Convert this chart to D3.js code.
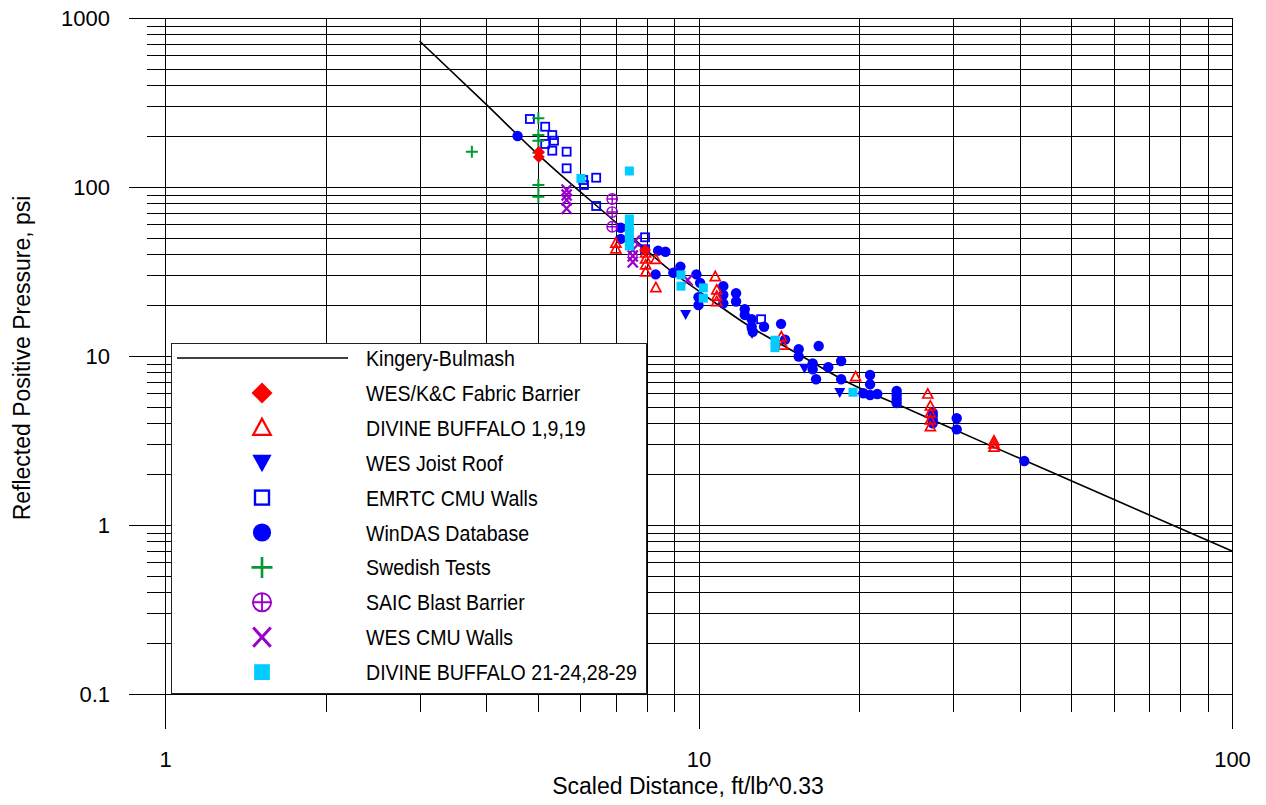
<!DOCTYPE html>
<html>
<head>
<meta charset="utf-8">
<script src="https://cdn.jsdelivr.net/npm/d3@7"></script>
<style>
  html, body { margin: 0; padding: 0; background: #fff; }
  svg { display: block; font-family: "Liberation Sans", Arial, sans-serif; }
</style>
</head>
<body>
<svg id="chart" width="1266" height="805"></svg>
<script>
// ---- Data: scaled distance Z (ft/lb^0.33) vs reflected positive pressure (psi) ----

// Kingery-Bulmash reflected pressure curve
const kingeryZ = [3, 4, 5, 7, 9, 10, 12.5, 15, 19.2, 25, 35.8, 45.6, 70, 100];
const kingeryP = [731, 308, 156, 61.7, 30.8, 24.3, 14.9, 10.75, 6.9, 4.78, 2.89, 2.07, 1.146, 0.702];

const wesKcFabric = [[5.02, 161], [5.02, 150.5], [7.94, 42.4]];

const divineBuffalo1919 = [
  [7.00, 46.6], [7.00, 43.0], [7.96, 40.7], [7.96, 37.5], [7.96, 34.6], [7.96, 31.4],
  [8.32, 37.3], [8.32, 25.4], [10.75, 29.5], [10.82, 24.6], [10.82, 22.6], [10.82, 21.0],
  [14.3, 13.0], [14.4, 11.6], [19.7, 7.54], [26.9, 5.96], [27.2, 5.06], [27.2, 4.60],
  [27.2, 4.18], [27.2, 3.82], [35.8, 3.14], [35.8, 3.02], [35.8, 2.89]
];

const wesJoistRoof = [[9.46, 17.6], [12.6, 13.6], [15.8, 8.46], [18.4, 6.08]];

const emrtcCmuWalls = [
  [4.83, 252.6], [5.16, 227.4], [5.32, 203.0], [5.36, 187.9], [5.16, 179.7], [5.32, 164.0],
  [5.66, 161.8], [5.66, 129.0], [6.08, 110.0], [6.10, 102.8], [6.43, 113.5], [6.43, 77.2],
  [7.94, 50.4], [7.94, 42.8], [13.1, 16.5]
];

const winDas = [
  [4.58, 200.4], [7.15, 57.4], [7.15, 49.3], [8.40, 42.0], [8.67, 41.4], [8.31, 30.4],
  [8.97, 31.1], [9.25, 33.8], [9.91, 30.4], [10.07, 27.1], [10.0, 22.3], [10.0, 20.0],
  [11.13, 25.9], [11.13, 23.0], [11.13, 20.5], [11.76, 23.5], [11.76, 21.0], [12.21, 18.9],
  [12.21, 17.5], [12.58, 16.5], [12.58, 14.9], [12.64, 13.9], [13.27, 14.9], [14.28, 15.5],
  [14.53, 12.5], [15.41, 10.96], [15.41, 9.93], [16.37, 9.05], [16.37, 8.34], [16.80, 11.46],
  [17.51, 8.58], [16.61, 7.28], [18.51, 9.34], [18.51, 7.28], [20.37, 6.02], [20.97, 7.72],
  [20.97, 6.80], [20.97, 5.88], [21.63, 5.96], [23.52, 6.21], [23.52, 5.88], [23.52, 5.57],
  [23.52, 5.27], [27.48, 4.62], [27.48, 4.42], [27.48, 4.18], [27.48, 4.00], [30.48, 4.28],
  [30.48, 3.68], [40.8, 2.39]
];

const swedishTests = [
  [3.76, 161.8], [5.01, 255.0], [5.01, 203.0], [5.01, 187.9], [5.01, 159.6],
  [5.01, 102.8], [5.01, 87.6]
];

const saicBlastBarrier = [[6.89, 84.9], [6.89, 71.1], [6.89, 58.2]];

const wesCmuWalls = [
  [5.66, 96.0], [5.66, 89.7], [5.66, 83.8], [5.66, 74.6], [7.53, 42.4], [7.53, 39.1],
  [7.53, 36.0], [7.60, 47.9], [9.54, 28.2]
];

const divineBuffalo2129 = [
  [6.02, 112.3], [7.42, 124.4], [7.42, 64.7], [7.42, 58.8], [7.42, 53.4], [7.42, 48.6],
  [7.42, 44.8], [9.27, 30.2], [9.27, 25.9], [10.21, 25.3], [10.21, 22.0], [13.91, 12.4],
  [13.91, 11.2], [19.48, 6.10]
];

const xTickValues = [1, 10, 100];
const xTickLabels = ["1", "10", "100"];
const yTickValues = [0.1, 1, 10, 100, 1000];
const yTickLabels = ["0.1", "1", "10", "100", "1000"];

const legendLabels = [
  "Kingery-Bulmash",
  "WES/K&C Fabric Barrier",
  "DIVINE BUFFALO 1,9,19",
  "WES Joist Roof",
  "EMRTC CMU Walls",
  "WinDAS Database",
  "Swedish Tests",
  "SAIC Blast Barrier",
  "WES CMU Walls",
  "DIVINE BUFFALO 21-24,28-29"
];

// ---- Colours ----
const RED = "#ff0000", BLUE = "#0000ff", GREEN = "#009933", PURPLE = "#9900cc", CYAN = "#00ccff";

// ---- Scales ----
const svg = d3.select("#chart");
const plotLeft = 165, plotRight = 1232, plotTop = 18, plotBottom = 694;
const x = d3.scaleLog().domain([1, 100]).range([plotLeft, plotRight]);
const y = d3.scaleLog().domain([0.1, 1000]).range([plotBottom, plotTop]);

// every 1..9 x 10^k inside a log domain
function logSteps(lo, hi) {
  const out = [];
  for (let k = Math.round(Math.log10(lo)); k < Math.round(Math.log10(hi)); k++) {
    for (let m = 1; m <= 9; m++) out.push(+(m * Math.pow(10, k)).toPrecision(6));
  }
  out.push(hi);
  return out;
}
const xMinor = logSteps(1, 100).filter(v => !xTickValues.some(t => Math.abs(t - v) < 1e-9));
const yMinor = logSteps(0.1, 1000).filter(v => !yTickValues.some(t => Math.abs(t - v) < 1e-9));

function styleAxis(g) {
  g.select(".domain").remove();
  g.selectAll(".tick line").attr("stroke", "#000").attr("stroke-width", 1).attr("shape-rendering", "crispEdges");
  g.selectAll(".tick text").attr("fill", "#000").attr("font-family", "'Liberation Sans', Arial, sans-serif").attr("font-size", 22);
}

// ---- Vertical grid (x axis) ----
svg.append("g")
  .attr("transform", `translate(0,${plotTop})`)
  .call(d3.axisBottom(x).tickValues(xMinor).tickSize(plotBottom - plotTop + 18).tickFormat(""))
  .call(styleAxis);

svg.append("g")
  .attr("transform", `translate(0,${plotTop})`)
  .call(d3.axisBottom(x).tickValues(xTickValues).tickSize(plotBottom - plotTop + 35).tickPadding(22)
    .tickFormat((d, i) => xTickLabels[i]))
  .call(styleAxis);

// ---- Horizontal grid (y axis) ----
svg.append("g")
  .attr("transform", `translate(${plotRight},0)`)
  .call(d3.axisLeft(y).tickValues(yMinor).tickSize(plotRight - 147).tickFormat(""))
  .call(styleAxis);

svg.append("g")
  .attr("transform", `translate(${plotRight},0)`)
  .call(d3.axisLeft(y).tickValues(yTickValues).tickSize(plotRight - 129).tickPadding(19)
    .tickFormat((d, i) => yTickLabels[i]))
  .call(styleAxis);

// ---- Axis titles ----
svg.append("text")
  .attr("x", 688).attr("y", 794)
  .attr("text-anchor", "middle")
  .attr("font-size", 23)
  .text("Scaled Distance, ft/lb^0.33");

svg.append("text")
  .attr("transform", "translate(30,358) rotate(-90)")
  .attr("text-anchor", "middle")
  .attr("font-size", 23)
  .text("Reflected Positive Pressure, psi");

// ---- Kingery-Bulmash curve ----
const kingery = kingeryZ.map((z, i) => [z, kingeryP[i]]);
svg.append("path")
  .datum(kingery)
  .attr("fill", "none")
  .attr("stroke", "#000")
  .attr("stroke-width", 1.6)
  .attr("d", d3.line().x(d => x(d[0])).y(d => y(d[1])).curve(d3.curveMonotoneX));

// ---- Marker drawers (s = scale factor) ----
const markers = {
  diamond: (g, s) => g.append("path").attr("d", `M0,${-6*s}L${6*s},0L0,${6*s}L${-6*s},0Z`).attr("fill", RED),
  triUp: (g, s) => g.append("path").attr("d", `M0,${-5.2*s}L${5*s},${4*s}L${-5*s},${4*s}Z`)
    .attr("fill", "none").attr("stroke", RED).attr("stroke-width", 1.7 * Math.sqrt(s)),
  triDown: (g, s) => g.append("path").attr("d", `M${-5.5*s},${-4.5*s}L${5.5*s},${-4.5*s}L0,${5.5*s}Z`).attr("fill", BLUE),
  openSquare: (g, s) => g.append("rect").attr("x", -4*s).attr("y", -4*s).attr("width", 8*s).attr("height", 8*s)
    .attr("fill", "none").attr("stroke", BLUE).attr("stroke-width", 1.8 * Math.sqrt(s)),
  dot: (g, s) => g.append("circle").attr("r", 5.2*s).attr("fill", BLUE),
  plus: (g, s) => g.append("path").attr("d", `M${-6*s},0H${6*s}M0,${-6*s}V${6*s}`)
    .attr("stroke", GREEN).attr("stroke-width", 2 * Math.sqrt(s)).attr("fill", "none"),
  circlePlus: (g, s) => {
    g.append("circle").attr("r", 5.2*s).attr("fill", "none").attr("stroke", PURPLE).attr("stroke-width", 1.4 * Math.sqrt(s));
    g.append("path").attr("d", `M${-5.2*s},0H${5.2*s}M0,${-5.2*s}V${5.2*s}`).attr("stroke", PURPLE).attr("stroke-width", 1.4 * Math.sqrt(s));
  },
  cross: (g, s) => g.append("path").attr("d", `M${-5*s},${-5.5*s}L${5*s},${5.5*s}M${5*s},${-5.5*s}L${-5*s},${5.5*s}`)
    .attr("stroke", PURPLE).attr("stroke-width", 2.3 * Math.sqrt(s)).attr("fill", "none"),
  cyanSquare: (g, s) => g.append("rect").attr("x", -4.5*s).attr("y", -4.5*s).attr("width", 9*s).attr("height", 9*s).attr("fill", CYAN)
};

const seriesList = [
  { data: wesKcFabric, marker: "diamond" },
  { data: divineBuffalo1919, marker: "triUp" },
  { data: wesJoistRoof, marker: "triDown" },
  { data: emrtcCmuWalls, marker: "openSquare" },
  { data: winDas, marker: "dot" },
  { data: swedishTests, marker: "plus" },
  { data: saicBlastBarrier, marker: "circlePlus" },
  { data: wesCmuWalls, marker: "cross" },
  { data: divineBuffalo2129, marker: "cyanSquare" }
];

// draw order: blue dots underneath, then the rest
const drawOrder = [4, 3, 1, 2, 5, 6, 7, 8, 0];
drawOrder.forEach(idx => {
  const s = seriesList[idx];
  const layer = svg.append("g");
  s.data.forEach(d => {
    const g = layer.append("g").attr("transform", `translate(${x(d[0])},${y(d[1])})`);
    markers[s.marker](g, 1);
  });
});

// ---- Legend ----
const legend = svg.append("g");
legend.append("rect")
  .attr("x", 171.5).attr("y", 343.5).attr("width", 475).attr("height", 350)
  .attr("fill", "#fff").attr("stroke", "#222").attr("stroke-width", 1);

const rowY0 = 358, rowStep = 34.9, markX = 262, textX = 366;
legend.append("line")
  .attr("x1", 177).attr("x2", 348).attr("y1", rowY0).attr("y2", rowY0)
  .attr("stroke", "#000").attr("stroke-width", 1.6);

seriesList.forEach((s, i) => {
  const g = legend.append("g").attr("transform", `translate(${markX},${rowY0 + (i + 1) * rowStep})`);
  markers[s.marker](g, 1.75);
});

legendLabels.forEach((label, i) => {
  legend.append("g")
    .attr("transform", `translate(${textX},${rowY0 + i * rowStep + 8}) scale(0.89,1)`)
    .append("text")
    .attr("font-size", 22)
    .attr("fill", "#000")
    .text(label);
});
</script>
</body>
</html>
